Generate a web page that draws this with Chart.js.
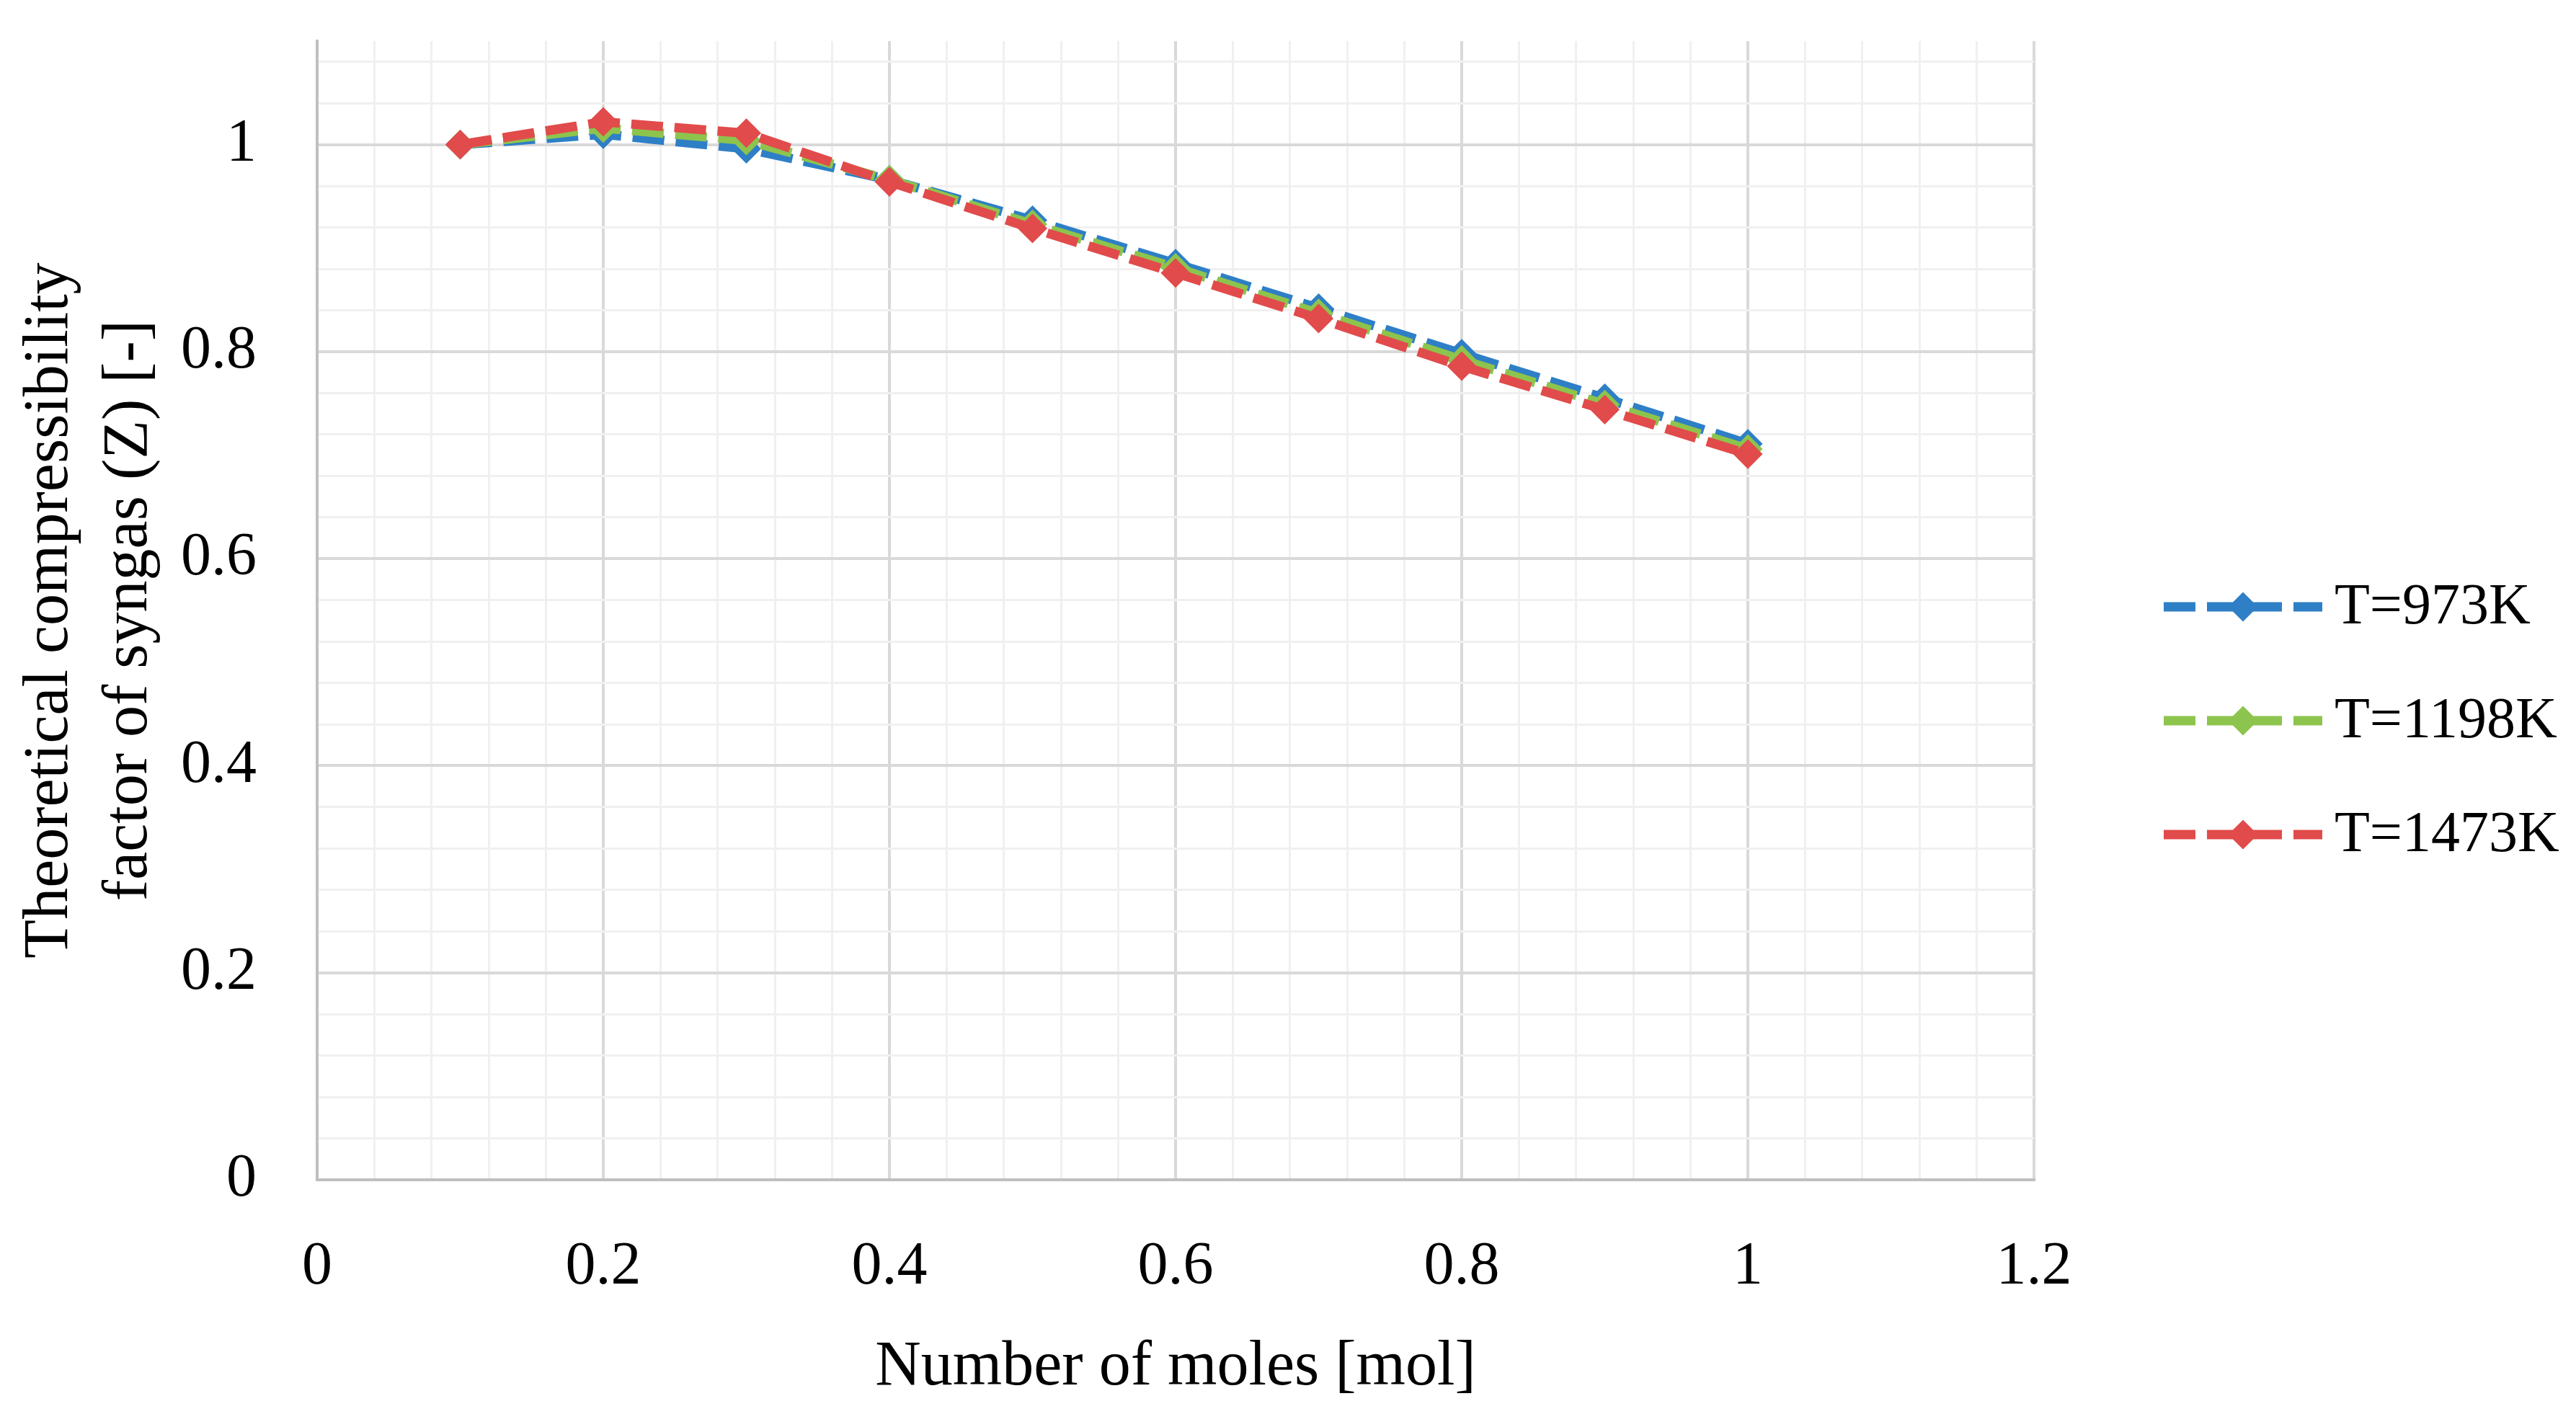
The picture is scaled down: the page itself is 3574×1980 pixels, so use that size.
<!DOCTYPE html>
<html>
<head>
<meta charset="utf-8">
<script src="https://cdn.jsdelivr.net/npm/chart.js@4"></script>
<style>
  html, body { margin: 0; padding: 0; background: #fff; }
  canvas { display: block; }
</style>
</head>
<body>
<canvas id="zChart" width="3574" height="1980"></canvas>
<script>
// number of moles [mol]
const moles = [0.1, 0.2, 0.3, 0.4, 0.5, 0.6, 0.7, 0.8, 0.9, 1.0];
// compressibility factor Z per temperature
const z973  = [1.000, 1.010, 0.996, 0.966, 0.927, 0.885, 0.842, 0.798, 0.755, 0.711];
const z1198 = [1.000, 1.016, 1.004, 0.966, 0.923, 0.881, 0.837, 0.792, 0.749, 0.706];
const z1473 = [1.000, 1.022, 1.011, 0.964, 0.919, 0.876, 0.832, 0.786, 0.744, 0.701];
const seriesLabels = ['T=973K', 'T=1198K', 'T=1473K'];
const seriesColors = ['#2e7fc6', '#8dc44d', '#e14b4b'];

const FONT = "'Liberation Serif', 'Times New Roman', serif";
Chart.defaults.font.family = FONT;
Chart.defaults.color = '#000';

const isMajor = v => Math.abs(v * 5 - Math.round(v * 5)) < 1e-6;
const gridColor = c => (c.tick && isMajor(c.tick.value)) ? '#d9d9d9' : '#f0f0f0';
const gridWidth = c => (c.tick && isMajor(c.tick.value)) ? 4 : 3;
const tickText = v => isMajor(v) ? String(+Number(v).toFixed(1)) : '';

function series(values, i) {
  return {
    label: seriesLabels[i],
    data: moles.map((m, k) => ({x: m, y: values[k]})),
    borderColor: seriesColors[i],
    backgroundColor: seriesColors[i],
    borderWidth: 13,
    borderDash: [44, 16],
    tension: 0,
    pointStyle: 'rectRot',
    pointRadius: 17,
    pointBorderWidth: 5,
    pointHoverRadius: 17,
    order: 2 - i
  };
}

// legend on the right: dashed line with a diamond, then the label
const sideLegend = {
  id: 'sideLegend',
  afterDraw(chart) {
    const ctx = chart.ctx;
    const x0 = 3002, y0 = 842, step = 158;
    chart.data.datasets.forEach((ds, i) => {
      const cy = y0 + i * step;
      ctx.save();
      ctx.strokeStyle = ds.borderColor;
      ctx.fillStyle = ds.borderColor;
      ctx.lineWidth = 13;
      ctx.setLineDash([44, 16]);
      ctx.beginPath();
      ctx.moveTo(x0, cy);
      ctx.lineTo(x0 + 220, cy);
      ctx.stroke();
      ctx.setLineDash([]);
      ctx.lineWidth = 5;
      Chart.helpers.drawPoint(ctx, {pointStyle: 'rectRot', radius: 17, borderWidth: 5, rotation: 0}, x0 + 110, cy);
      ctx.fillStyle = '#000';
      ctx.font = "80px " + FONT;
      ctx.textAlign = 'left';
      ctx.textBaseline = 'middle';
      ctx.fillText(ds.label, x0 + 237, cy + 2);
      ctx.restore();
    });
  }
};

new Chart(document.getElementById('zChart').getContext('2d'), {
  type: 'line',
  data: {
    datasets: [series(z973, 0), series(z1198, 1), series(z1473, 2)]
  },
  plugins: [sideLegend],
  options: {
    responsive: false,
    animation: false,
    layout: { padding: { top: 57, bottom: 28, left: 0, right: 752 } },
    plugins: {
      tooltip: { enabled: false },
      legend: { display: false }
    },
    scales: {
      x: {
        type: 'linear',
        min: 0,
        max: 1.2,
        ticks: { stepSize: 0.04, autoSkip: false, maxRotation: 0, padding: 0, font: { size: 84 }, callback: tickText },
        grid: { color: gridColor, lineWidth: gridWidth, drawTicks: true, tickLength: 72, tickColor: 'rgba(0,0,0,0)' },
        border: { color: '#bfbfbf', width: 4 },
        title: { display: true, text: 'Number of moles [mol]', font: { size: 88 }, padding: { top: 0, bottom: 1 } },
        afterFit: s => { s.height = 315; }
      },
      y: {
        min: 0,
        max: 1.1,
        ticks: { stepSize: 0.04, includeBounds: false, autoSkip: false, padding: 0, font: { size: 84 }, callback: tickText },
        grid: { color: gridColor, lineWidth: gridWidth, drawTicks: true, tickLength: 84, tickColor: 'rgba(0,0,0,0)' },
        border: { color: '#bfbfbf', width: 4 },
        title: {
          display: true,
          text: ['Theoretical compressibility', 'factor of syngas (Z) [-]'],
          font: { size: 88, lineHeight: 1.25 },
          padding: { top: 15, bottom: 0 }
        },
        afterFit: s => { s.width = 440; }
      }
    }
  }
});
</script>
</body>
</html>
